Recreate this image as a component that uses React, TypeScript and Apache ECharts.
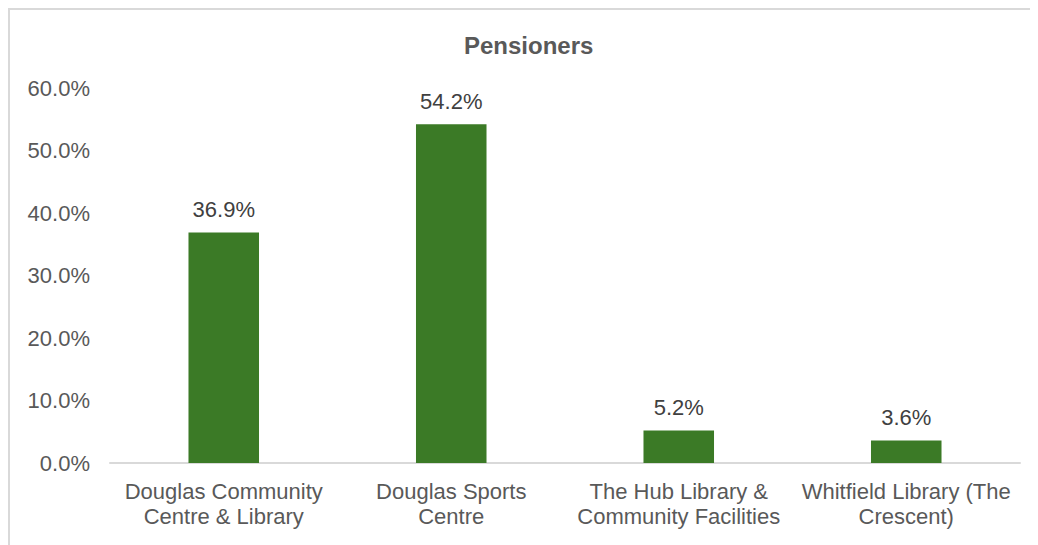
import React, { useEffect, useRef } from "react";
import * as echarts from "echarts";

const categories = [
  "Douglas Community\nCentre & Library",
  "Douglas Sports\nCentre",
  "The Hub Library &\nCommunity Facilities",
  "Whitfield Library (The\nCrescent)",
];
const values = [36.9, 54.2, 5.2, 3.6];
const titleText = "Pensioners";

export default function App() {
  const ref = useRef<HTMLDivElement>(null);
  useEffect(() => {
    if (!ref.current) return;
    const chart = echarts.init(ref.current, null, { renderer: "svg" });
    const font = "'Liberation Sans', Arial, sans-serif";
    chart.setOption({
      animation: false,
      textStyle: { fontFamily: font },
      title: {
        text: titleText,
        left: 451,
        top: 20,
        textStyle: { fontSize: 24, fontWeight: "bold", color: "#595959", fontFamily: font },
      },
      graphic: [
        { type: "line", shape: { x1: 0, y1: 1, x2: 1030, y2: 1 }, style: { stroke: "#d9d9d9", lineWidth: 2 } },
        { type: "line", shape: { x1: 1, y1: 0, x2: 1, y2: 537 }, style: { stroke: "#d9d9d9", lineWidth: 2 } },
      ],
      grid: { left: 102, right: 18, top: 80, bottom: 82 },
      xAxis: {
        type: "category",
        data: categories,
        axisLine: { lineStyle: { color: "#d9d9d9", width: 2 } },
        axisTick: { show: false },
        axisLabel: {
          fontSize: 22,
          color: "#595959",
          lineHeight: 25,
          margin: 16,
          interval: 0,
          fontFamily: font,
        },
      },
      yAxis: {
        type: "value",
        min: 0,
        max: 60,
        interval: 10,
        splitLine: { show: false },
        axisLine: { show: false },
        axisTick: { show: false },
        axisLabel: {
          fontSize: 22,
          color: "#595959",
          margin: 20,
          fontFamily: font,
          formatter: (v: number) => v.toFixed(1) + "%",
        },
      },
      series: [
        {
          type: "bar",
          data: values,
          barWidth: "31%",
          itemStyle: { color: "#3b7a26" },
          label: {
            show: true,
            position: "top",
            distance: 12,
            fontSize: 22,
            color: "#404040",
            fontFamily: font,
            formatter: (p: any) => p.value.toFixed(1) + "%",
          },
        },
      ],
    });
    return () => chart.dispose();
  }, []);
  return <div ref={ref} style={{ width: 1030, height: 537 }} />;
}
